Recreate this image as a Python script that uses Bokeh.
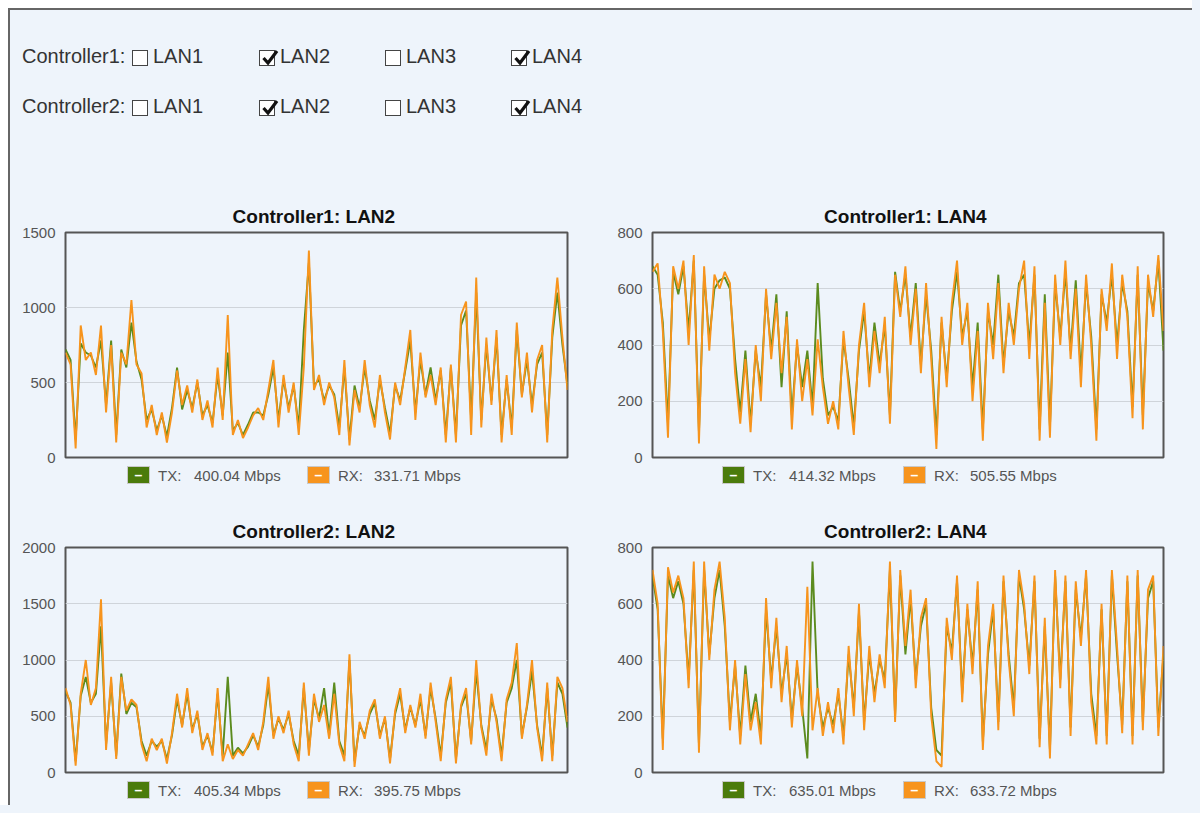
from bokeh.plotting import figure
from bokeh.models import Div, Range1d, FixedTicker, ColumnDataSource
from bokeh.layouts import column, row
from bokeh.embed import file_html
from bokeh.resources import INLINE

# ---------------- data ----------------
controllers = ["Controller1", "Controller2"]
lan_labels = ["LAN1", "LAN2", "LAN3", "LAN4"]
c1_checked = [False, True, False, True]
c2_checked = [False, True, False, True]

panel_titles = ["Controller1:  LAN2", "Controller1:  LAN4",
                "Controller2:  LAN2", "Controller2:  LAN4"]
tx_rates = ["400.04 Mbps", "414.32 Mbps", "405.34 Mbps", "635.01 Mbps"]
rx_rates = ["331.71 Mbps", "505.55 Mbps", "395.75 Mbps", "633.72 Mbps"]
y_max = [1500, 800, 2000, 800]
ticks_lan2_c1 = [0, 500, 1000, 1500]
ticks_lan4 = [0, 200, 400, 600, 800]
ticks_lan2_c2 = [0, 500, 1000, 1500, 2000]

c1_lan2_rx = [700, 620, 60, 880, 650, 700, 550, 880, 300, 750,
              100, 700, 620, 1050, 620, 560, 200, 350, 150, 300,
              100, 300, 580, 350, 480, 300, 520, 250, 380, 200,
              600, 250, 950, 150, 250, 130, 200, 280, 330, 250,
              450, 650, 200, 550, 300, 500, 150, 600, 1380, 450,
              550, 350, 500, 400, 150, 650, 80, 450, 300, 650,
              350, 200, 550, 300, 120, 500, 350, 600, 850, 250,
              700, 400, 550, 350, 600, 100, 620, 100, 950, 1040,
              150, 1200, 200, 800, 350, 850, 100, 550, 150, 900,
              400, 700, 300, 650, 750, 100, 850, 1200, 800, 450]
c1_lan2_tx = [720, 650, 120, 760, 700, 680, 600, 780, 350, 780,
              150, 720, 600, 900, 640, 520, 250, 320, 180, 280,
              140, 330, 600, 320, 450, 330, 500, 280, 350, 230,
              550, 280, 700, 180, 230, 150, 220, 300, 300, 280,
              420, 600, 250, 520, 330, 480, 200, 850, 1300, 480,
              520, 380, 480, 420, 200, 600, 120, 480, 330, 600,
              380, 250, 520, 330, 160, 480, 380, 580, 780, 300,
              650, 420, 600, 380, 580, 150, 600, 150, 880, 980,
              250, 1100, 250, 750, 380, 800, 150, 520, 200, 850,
              420, 650, 350, 620, 700, 150, 800, 1100, 750, 480]

c1_lan4_rx = [660, 690, 450, 70, 680, 600, 700, 400, 720, 50,
              680, 380, 650, 600, 660, 620, 300, 120, 350, 90,
              400, 200, 600, 350, 550, 300, 500, 100, 420, 200,
              350, 150, 420, 250, 120, 200, 100, 450, 250, 80,
              400, 550, 250, 450, 300, 500, 120, 650, 500, 680,
              400, 600, 300, 620, 350, 30, 500, 250, 550, 700,
              400, 550, 200, 450, 60, 550, 350, 620, 300, 550,
              400, 600, 700, 350, 680, 60, 550, 70, 650, 400,
              700, 350, 600, 250, 650, 400, 60, 600, 450, 690,
              350, 650, 500, 140, 680, 100, 650, 500, 720, 450]
c1_lan4_tx = [680, 650, 480, 120, 660, 580, 680, 450, 700, 90,
              650, 420, 600, 630, 640, 600, 350, 160, 380, 120,
              380, 250, 580, 380, 580, 250, 520, 150, 400, 250,
              380, 180, 620, 280, 150, 180, 130, 420, 280, 110,
              380, 520, 280, 480, 330, 470, 150, 660, 520, 650,
              430, 620, 330, 580, 380, 80, 480, 280, 520, 660,
              430, 520, 250, 480, 100, 520, 400, 650, 330, 520,
              430, 620, 650, 400, 650, 100, 580, 110, 620, 430,
              660, 380, 630, 300, 620, 430, 100, 580, 480, 650,
              400, 620, 520, 180, 650, 150, 620, 520, 700, 380]

c2_lan2_rx = [750, 600, 60, 700, 1000, 600, 750, 1540, 200, 850,
              120, 850, 550, 650, 600, 250, 100, 300, 200, 300,
              80, 350, 700, 400, 750, 350, 550, 200, 350, 150,
              750, 100, 250, 120, 200, 150, 250, 350, 200, 450,
              850, 300, 500, 350, 550, 250, 100, 800, 150, 700,
              450, 600, 300, 700, 250, 100, 1050, 50, 450, 300,
              550, 650, 300, 500, 80, 550, 750, 350, 600, 400,
              700, 300, 800, 450, 100, 650, 850, 80, 600, 750,
              250, 1000, 400, 150, 700, 450, 100, 650, 800, 1150,
              300, 600, 1000, 400, 100, 800, 100, 850, 750, 450]
c2_lan2_tx = [720, 620, 100, 680, 850, 620, 700, 1300, 250, 800,
              150, 880, 520, 620, 580, 280, 150, 280, 230, 280,
              120, 330, 650, 420, 700, 380, 520, 230, 330, 180,
              700, 150, 850, 150, 220, 170, 230, 330, 230, 420,
              780, 330, 480, 380, 520, 280, 150, 750, 200, 650,
              480, 750, 330, 800, 280, 150, 1000, 100, 420, 330,
              520, 620, 330, 480, 120, 520, 700, 380, 580, 420,
              650, 330, 750, 480, 150, 620, 800, 120, 580, 700,
              280, 900, 420, 200, 650, 480, 150, 620, 750, 1000,
              330, 580, 900, 420, 150, 750, 150, 800, 700, 400]

c2_lan4_rx = [720, 600, 80, 730, 640, 700, 620, 300, 750, 70,
              750, 400, 650, 750, 550, 150, 400, 100, 350, 150,
              250, 100, 620, 300, 550, 250, 450, 160, 400, 200,
              660, 150, 300, 130, 250, 140, 300, 100, 450, 200,
              600, 150, 450, 250, 420, 300, 750, 180, 720, 450,
              650, 300, 550, 620, 200, 40, 20, 550, 400, 700,
              250, 600, 350, 680, 80, 450, 600, 150, 700, 400,
              200, 720, 600, 350, 700, 90, 550, 50, 720, 300,
              700, 130, 680, 450, 720, 250, 100, 600, 100, 720,
              450, 140, 700, 100, 720, 150, 650, 700, 130, 450]
c2_lan4_tx = [700, 580, 120, 700, 620, 680, 600, 330, 720, 100,
              720, 420, 620, 720, 520, 180, 380, 130, 380, 180,
              280, 130, 580, 330, 520, 280, 420, 190, 380, 230,
              50, 750, 280, 160, 230, 170, 280, 130, 420, 230,
              570, 180, 420, 280, 400, 330, 720, 200, 700, 420,
              620, 330, 520, 600, 230, 80, 60, 520, 430, 680,
              280, 580, 380, 650, 110, 420, 580, 180, 680, 420,
              230, 700, 580, 380, 680, 120, 520, 80, 700, 330,
              680, 160, 650, 480, 700, 280, 130, 580, 130, 700,
              420, 170, 680, 130, 700, 180, 620, 680, 160, 420]

# ---------------- style ----------------
BG = "#EEF4FB"
TX_LINE = "#5B8B1E"
RX_LINE = "#F7941D"
TX_BOX = "#4B7B0B"
RX_BOX = "#F7941D"
FONT = "Liberation Sans"


def make_panel(title, tx, rx, ymax, ticks, width, left, right):
    n = len(rx)
    src = ColumnDataSource(dict(t=list(range(n)), tx=tx, rx=rx))
    p = figure(width=width, height=274, title=title, output_backend="svg",
               toolbar_location=None, x_range=Range1d(0, n - 1),
               y_range=Range1d(0, ymax), x_axis_location=None,
               min_border_left=left, min_border_right=right,
               min_border_top=40, min_border_bottom=9)
    p.line("t", "tx", source=src, color=TX_LINE, line_width=1.9)
    p.line("t", "rx", source=src, color=RX_LINE, line_width=1.9)
    p.background_fill_alpha = 0
    p.border_fill_alpha = 0
    p.outline_line_color = "#555555"
    p.outline_line_width = 2
    p.xgrid.visible = False
    p.ygrid.ticker = FixedTicker(ticks=ticks)
    p.ygrid.grid_line_color = "#cfd4da"
    p.yaxis.ticker = FixedTicker(ticks=ticks)
    p.yaxis.axis_line_color = None
    p.yaxis.major_tick_line_color = None
    p.yaxis.minor_tick_line_color = None
    p.yaxis.major_tick_out = 0
    p.yaxis.major_tick_in = 0
    p.yaxis.major_label_standoff = 10
    p.yaxis.major_label_text_font = FONT
    p.yaxis.major_label_text_font_size = "15px"
    p.yaxis.major_label_text_color = "#555555"
    p.title.align = "center"
    p.title.standoff = 12
    p.title.text_font = FONT
    p.title.text_font_size = "19px"
    p.title.text_font_style = "bold"
    p.title.text_color = "#111111"
    return p


def legend_div(width, height, tx_x, rx_x, tx_text, rx_text, top):
    def item(x, color, label, val):
        return (
            f'<div style="position:absolute;left:{x}px;top:{top}px;width:23px;height:18px;'
            f'background:{color};border:1px solid #c9c9c9;color:#fff;text-align:center;'
            f'line-height:17px;font-size:14px;font-weight:bold;">&ndash;</div>'
            f'<div style="position:absolute;left:{x + 31}px;top:{top}px;line-height:20px;">{label}</div>'
            f'<div style="position:absolute;left:{x + 67}px;top:{top}px;line-height:20px;">{val}</div>'
        )
    html = (f'<div style="position:relative;width:{width}px;height:{height}px;'
            f'font-family:\'{FONT}\',Arial,sans-serif;font-size:15px;color:#555;">'
            + item(tx_x, TX_BOX, "TX:", tx_text)
            + item(rx_x, RX_BOX, "RX:", rx_text)
            + '</div>')
    return Div(text=html, width=width, height=height, margin=0)


CHECK_SVG = ('<svg width="22" height="22" style="position:absolute;left:0;top:-3px;overflow:visible">'
             '<path d="M3.5 10 L8 15 L17 3" fill="none" stroke="#111" stroke-width="3.2"/></svg>')


def checkbox_row(label, checked, top):
    parts = [f'<div style="position:absolute;left:22px;top:{top}px;line-height:24px;">{label}:</div>']
    box_x = [132, 259, 385, 511]
    for bx, lab, ch in zip(box_x, lan_labels, checked):
        inner = CHECK_SVG if ch else ""
        parts.append(
            f'<div style="position:absolute;left:{bx}px;top:{top + 6}px;width:16px;height:16px;'
            f'border:1px solid #444;background:#fff;">{inner}</div>')
        parts.append(
            f'<div style="position:absolute;left:{bx + 21}px;top:{top}px;line-height:24px;">{lab}</div>')
    return "".join(parts)


W1, W2 = 587, 605
top_html = (f'<div style="position:relative;width:{W1 + W2}px;height:192px;'
            f'font-family:\'{FONT}\',Arial,sans-serif;font-size:20px;color:#333;">'
            + checkbox_row(controllers[0], c1_checked, 44)
            + checkbox_row(controllers[1], c2_checked, 94)
            + '</div>')
top_div = Div(text=top_html, width=W1 + W2, height=192, margin=0)

p1 = make_panel(panel_titles[0], c1_lan2_tx, c1_lan2_rx, y_max[0], ticks_lan2_c1, W1, 65, 20)
p2 = make_panel(panel_titles[1], c1_lan4_tx, c1_lan4_rx, y_max[1], ticks_lan4, W2, 65, 29)
p3 = make_panel(panel_titles[2], c2_lan2_tx, c2_lan2_rx, y_max[2], ticks_lan2_c2, W1, 65, 20)
p4 = make_panel(panel_titles[3], c2_lan4_tx, c2_lan4_rx, y_max[3], ticks_lan4, W2, 65, 29)

l1 = legend_div(W1, 41, 127, 307, tx_rates[0], rx_rates[0], 0)
l2 = legend_div(W2, 41, 135, 316, tx_rates[1], rx_rates[1], 0)
l3 = legend_div(W1, 24, 127, 307, tx_rates[2], rx_rates[2], 0)
l4 = legend_div(W2, 24, 135, 316, tx_rates[3], rx_rates[3], 0)

layout = column(
    top_div,
    row(p1, p2),
    row(l1, l2),
    row(p3, p4),
    row(l3, l4),
    styles={
        "background-color": BG,
        "box-shadow": (f"inset 8px 8px 0 0 #ffffff, inset 10px 10px 0 0 #666666, "
                       f"8px 0 0 0 {BG}, 0 8px 0 0 {BG}, 8px 8px 0 0 {BG}"),
    },
)

open("out.html", "w").write(file_html(layout, INLINE))
